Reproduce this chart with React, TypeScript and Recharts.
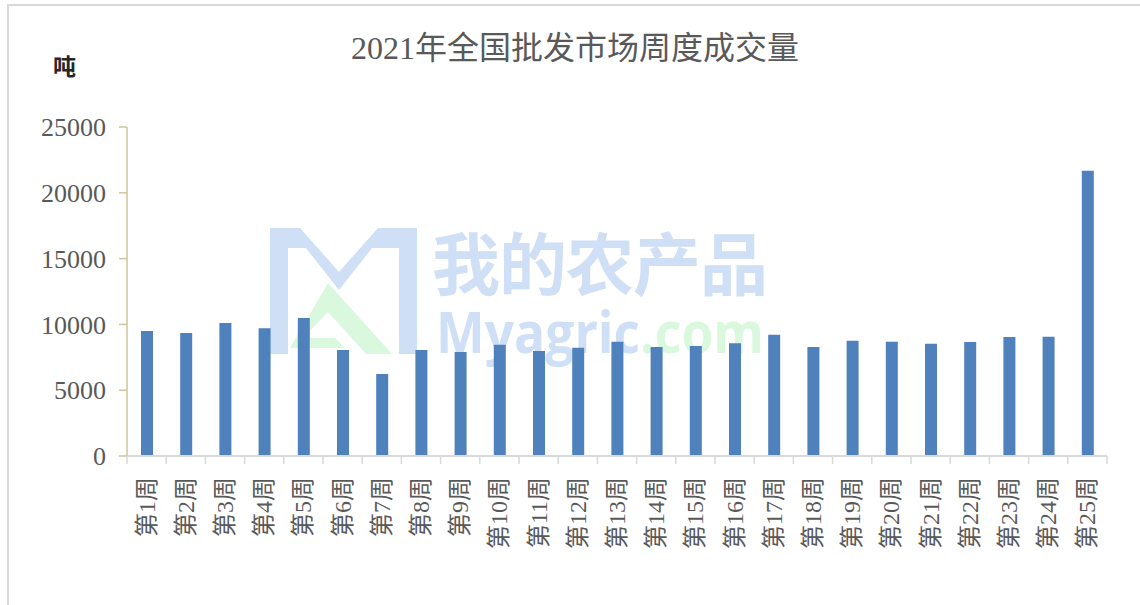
import React from 'react';
import { BarChart, Bar, XAxis, YAxis } from 'recharts';

const weeks = ['第1周','第2周','第3周','第4周','第5周','第6周','第7周','第8周','第9周','第10周','第11周','第12周','第13周','第14周','第15周','第16周','第17周','第18周','第19周','第20周','第21周','第22周','第23周','第24周','第25周'];
const volumes = [9500, 9350, 10100, 9700, 10490, 8050, 6230, 8050, 7900, 8460, 7980, 8230, 8690, 8280, 8360, 8560, 9220, 8280, 8760, 8690, 8530, 8660, 9040, 9070, 21680];
const yTicks = [0, 5000, 10000, 15000, 20000, 25000];

const data = weeks.map((w, i) => ({ week: w, value: volumes[i] }));

const FONT = '"Liberation Serif", "Noto Sans CJK SC", serif';
const TEXT = '#595959';

const XTick = (props: any) => {
  const { x, y, payload, index } = props;
  const half = 19.6;
  return (
    <g>
      <line x1={x - half} x2={x - half} y1={y} y2={y + 8} stroke="#d9d9d9" strokeWidth={1.5} />
      {index === weeks.length - 1 && (
        <line x1={x + half} x2={x + half} y1={y} y2={y + 8} stroke="#d9d9d9" strokeWidth={1.5} />
      )}
      <text
        transform={`translate(${x},${y + 21}) rotate(-90)`}
        textAnchor="end"
        dominantBaseline="central"
        fontSize={24}
        fontFamily={FONT}
        fill={TEXT}
      >
        {payload.value}
      </text>
    </g>
  );
};

const Watermark = () => (
  <div style={{ position: 'absolute', left: 0, top: 0, width: 1140, height: 605, pointerEvents: 'none' }}>
    <svg width={1140} height={605} style={{ position: 'absolute', left: 0, top: 0 }}>
      <path d="M270 228 L300 228 L339 272 L378 228 L417 228 L417 354 L399 354 L399 248 L372 248 L339 290 L306 248 L288 248 L288 354 L270 354 Z" fill="#cfdff5" />
      <path d="M328 283 L392 354 L366 354 L328 312 L303 338 L335 338 L345 348 L290 348 Z" fill="#d9f8dd" />
    </svg>
    <div style={{ position: 'absolute', left: 432, top: 226, fontSize: 68, fontFamily: '"Noto Sans CJK SC", sans-serif', fontWeight: 700, color: '#cfdff5', letterSpacing: -1, lineHeight: '70px', whiteSpace: 'nowrap' }}>我的农产品</div>
    <div style={{ position: 'absolute', left: 436, top: 302, fontSize: 58, fontFamily: '"Open Sans", sans-serif', fontWeight: 700, color: '#cfdff5', lineHeight: '58px', whiteSpace: 'nowrap', transform: 'scaleX(0.89)', transformOrigin: 'left top' }}>
      Myagric<span style={{ color: '#d9f8dd' }}>.com</span>
    </div>
  </div>
);

export default function App() {
  return (
    <div style={{ position: 'absolute', left: 0, top: 0, width: 1140, height: 605, background: '#fff', overflow: 'hidden' }}>
      <div style={{ position: 'absolute', left: 7, top: 4, width: 1150, height: 620, border: '2px solid #d9d9d9', boxSizing: 'border-box' }} />
      <Watermark />
      <div style={{ position: 'absolute', left: 0, top: 22, width: 1150, textAlign: 'center', fontSize: 32, fontFamily: FONT, color: TEXT, whiteSpace: 'nowrap' }}>
        2021年全国批发市场周度成交量
      </div>
      <div style={{ position: 'absolute', left: 53, top: 48, fontSize: 23, fontFamily: '"Noto Sans CJK SC", sans-serif', fontWeight: 700, color: '#262626' }}>吨</div>
      <div style={{ position: 'absolute', left: 0, top: 0 }}>
        <BarChart width={1140} height={605} data={data} margin={{ top: 127, right: 33, bottom: 49, left: 67 }}>
          <XAxis
            dataKey="week"
            interval={0}
            height={100}
            tickLine={false}
            tickSize={0}
            tickMargin={0}
            axisLine={{ stroke: '#d9d9d9', strokeWidth: 2 }}
            tick={<XTick />}
          />
          <YAxis
            width={60}
            domain={[0, 25000]}
            ticks={yTicks}
            interval={0}
            tickSize={8}
            tickMargin={13}
            axisLine={{ stroke: '#cfc699', strokeWidth: 1.5 }}
            tickLine={{ stroke: '#cfc699', strokeWidth: 1.5 }}
            tick={{ fontSize: 26, fontFamily: FONT, fill: TEXT }}
          />
          <Bar dataKey="value" fill="#4f81bd" barSize={12} isAnimationActive={false} />
        </BarChart>
      </div>
    </div>
  );
}
